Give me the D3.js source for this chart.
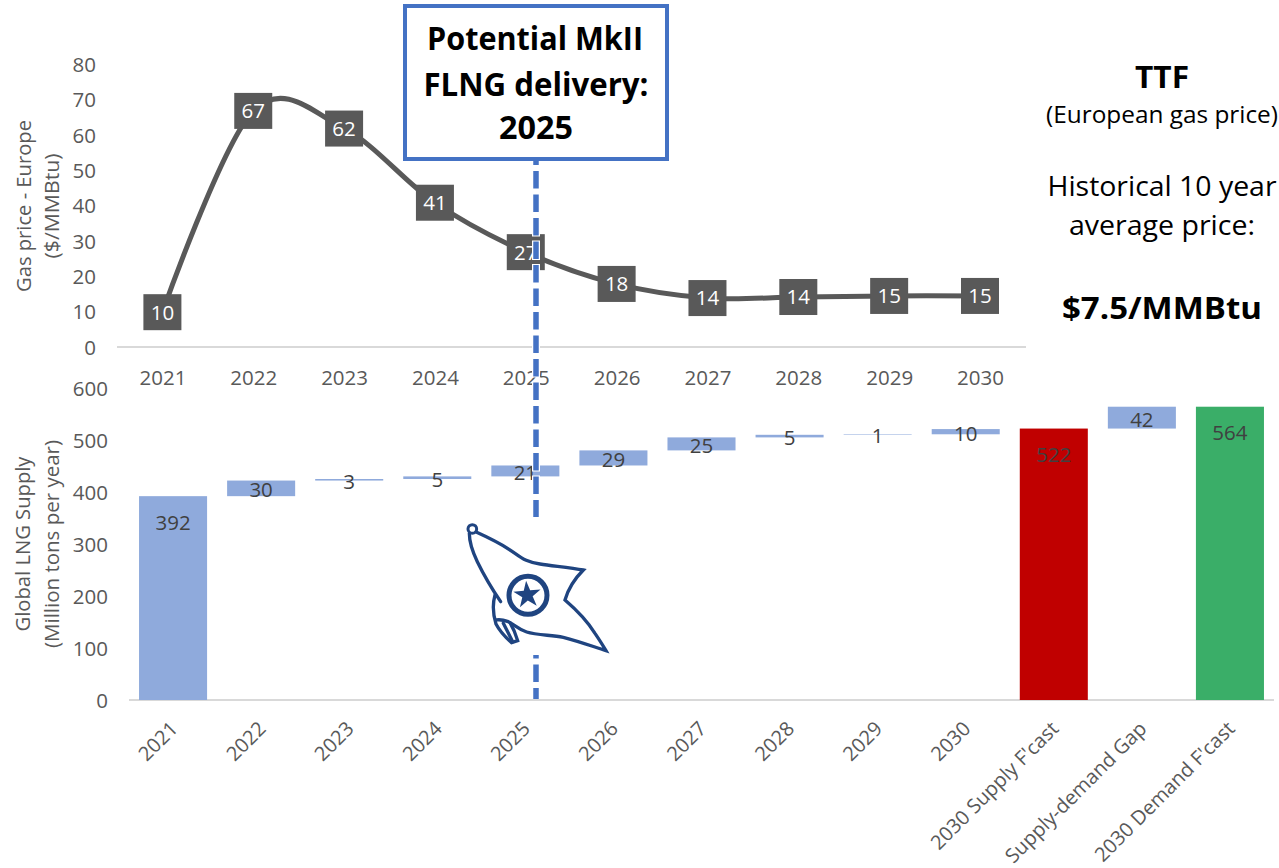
<!DOCTYPE html>
<html>
<head>
<meta charset="utf-8">
<script src="https://cdn.jsdelivr.net/npm/d3@7"></script>
<style>
  html, body { margin: 0; padding: 0; background: #fff; }
  svg { display: block; }
  text { font-family: "Open Sans", sans-serif; }
</style>
</head>
<body>
<svg id="chart" width="1279" height="868"></svg>
<script>
// Gas price series (TTF, $/MMBtu)
const priceYears = ["2021","2022","2023","2024","2025","2026","2027","2028","2029","2030"];
const priceValues = [10, 67, 62, 41, 27, 18, 14, 14.3, 14.6, 14.6];
const priceTicks = [0,10,20,30,40,50,60,70,80];

// LNG supply bridge (Mt per year)
const supplyCategories = ["2021","2022","2023","2024","2025","2026","2027","2028","2029","2030","2030 Supply F'cast","Supply-demand Gap","2030 Demand F'cast"];
const supplyValues = [392,30,3,5,21,29,25,5,1,10,522,42,564];
const supplyKinds = ["start","step","step","step","step","step","step","step","step","step","supply","gap","demand"];
const supplyTicks = [0,100,200,300,400,500,600];

const GREY = "#595959", LABEL = "#404040", BLUE = "#4472c4", BAR = "#8faadc";
const svg = d3.select("#chart");

// ---------- upper panel: smoothed price line ----------
const xTop = d3.scalePoint().domain(priceYears).range([162.4, 980]);
const yTop = d3.scaleLinear().domain([0, 80]).range([347.5, 65]);

svg.append("line").attr("x1", 117).attr("x2", 1026).attr("y1", 347).attr("y2", 347)
   .attr("stroke", "#d9d9d9").attr("stroke-width", 2);

const axisTopY = svg.append("g").attr("transform", "translate(96,0)")
   .call(d3.axisLeft(yTop).tickValues(priceTicks).tickSize(0).tickPadding(0));
const axisTopX = svg.append("g").attr("transform", "translate(0,347)")
   .call(d3.axisBottom(xTop).tickSize(0).tickPadding(23));
[axisTopY, axisTopX].forEach(a => {
  a.select(".domain").remove();
  a.selectAll("text").attr("fill", GREY).style("font-size", "20.5px");
});

const priceLine = d3.line()
  .x((d, i) => xTop(priceYears[i]))
  .y(d => yTop(d))
  .curve(d3.curveCardinal.tension(0));

svg.append("path").datum(priceValues).attr("d", priceLine)
   .attr("fill", "none").attr("stroke", GREY).attr("stroke-width", 5);

const markers = svg.append("g").selectAll("g").data(priceValues).join("g")
   .attr("transform", (d, i) => `translate(${xTop(priceYears[i])},${yTop(d)})`);
markers.append("rect").attr("x", -19).attr("y", -18).attr("width", 38).attr("height", 36).attr("fill", GREY);
markers.append("text").attr("text-anchor", "middle").attr("dy", "0.36em")
   .attr("fill", "#fff").style("font-size", "20.5px")
   .text(d => Math.round(d));

// ---------- lower panel: supply waterfall ----------
const xBot = d3.scaleBand().domain(supplyCategories).range([129, 1274]).paddingInner(0.2275).paddingOuter(0.114);
const yBot = d3.scaleLinear().domain([0, 600]).range([700, 388]);

// Each step sits on the running total; totals start from zero.
let running = 0;
const bars = supplyValues.map((v, i) => {
  const kind = supplyKinds[i];
  let base = 0;
  if (kind === "step") { base = running; running += v; }
  else if (kind === "start") { running = v; }
  else if (kind === "supply") { running = v; }
  else if (kind === "gap") { base = running; }
  return { cat: supplyCategories[i], v, kind, base };
});

svg.append("line").attr("x1", 129).attr("x2", 1274).attr("y1", yBot(0)).attr("y2", yBot(0))
   .attr("stroke", "#d9d9d9").attr("stroke-width", 2);

const axisBotY = svg.append("g").attr("transform", "translate(108,1)")
   .call(d3.axisLeft(yBot).tickValues(supplyTicks).tickSize(0).tickPadding(0));
axisBotY.select(".domain").remove();
axisBotY.selectAll("text").attr("fill", GREY).style("font-size", "20.5px");

const axisBotX = svg.append("g").attr("transform", "translate(0,700)")
   .call(d3.axisBottom(xBot).tickSize(0));
axisBotX.select(".domain").remove();
axisBotX.selectAll("text")
   .attr("fill", GREY).style("font-size", "20px")
   .attr("text-anchor", "end").attr("dy", 0).attr("y", 0)
   .attr("transform", "translate(6,30) rotate(-45)");

const barColor = { start: BAR, step: BAR, gap: BAR, supply: "#c00000", demand: "#3aae68" };
svg.append("g").selectAll("rect").data(bars).join("rect")
   .attr("x", d => xBot(d.cat))
   .attr("width", xBot.bandwidth())
   .attr("y", d => yBot(d.base + d.v))
   .attr("height", d => yBot(d.base) - yBot(d.base + d.v))
   .attr("fill", d => barColor[d.kind]);

svg.append("g").selectAll("text").data(bars).join("text")
   .attr("x", d => xBot(d.cat) + xBot.bandwidth() / 2)
   .attr("y", d => d.base === 0
        ? yBot(d.v) + 26
        : (yBot(d.base) + yBot(d.base + d.v)) / 2 + 1.5)
   .attr("dy", "0.36em").attr("text-anchor", "middle")
   .attr("fill", LABEL).style("font-size", "20.5px")
   .text(d => d.v);

// ---------- axis titles ----------
function rotatedTitle(x, y, str, len) {
  svg.append("text").attr("transform", `translate(${x},${y}) rotate(-90)`)
     .attr("text-anchor", "middle").attr("dy", "0.36em")
     .attr("fill", GREY).style("font-size", "20px")
     .attr("textLength", len).attr("lengthAdjust", "spacingAndGlyphs")
     .text(str);
}
rotatedTitle(24, 206, "Gas price - Europe", 172);
rotatedTitle(52, 206, "($/MMBtu)", 105);
rotatedTitle(23, 544, "Global LNG Supply", 175);
rotatedTitle(52, 544, "(Million tons per year)", 208);

// ---------- 2025 delivery marker ----------
const markerX = 536;
[["#ffffff", 8, 1], [BLUE, 5.5, 0]].forEach(([color, w, pad]) => {
  svg.append("line").attr("x1", markerX).attr("x2", markerX)
     .attr("y1", 160).attr("y2", 699)
     .attr("stroke", color).attr("stroke-width", w)
     .attr("stroke-dasharray", `${17.5 + 2 * pad} ${6 - 2 * pad}`)
     .attr("stroke-dashoffset", 12.5 + pad);
});

// Call-out box
svg.append("rect").attr("x", 405).attr("y", 6).attr("width", 262).attr("height", 153)
   .attr("fill", "#fff").attr("stroke", BLUE).attr("stroke-width", 4);

function note(x, y, str, size, weight, len) {
  svg.append("text").attr("x", x).attr("y", y).attr("text-anchor", "middle")
     .attr("fill", "#000").style("font-size", size + "px").style("font-weight", weight)
     .attr("textLength", len).attr("lengthAdjust", "spacingAndGlyphs")
     .text(str);
}
note(535, 50, "Potential MkII", 33, 700, 216);
note(536, 96, "FLNG delivery:", 33, 700, 225);
note(536, 139, "2025", 33, 700, 74);

// Side notes on the TTF benchmark
note(1162, 88, "TTF", 31, 700, 54);
note(1162, 123, "(European gas price)", 23, 400, 232);
note(1162, 196, "Historical 10 year", 28, 400, 229);
note(1162, 235, "average price:", 28, 400, 186);
note(1162, 319, "$7.5/MMBtu", 31, 700, 200);

// ---------- company flag on its white backing ----------
svg.append("rect").attr("x", 462).attr("y", 517).attr("width", 150).attr("height", 138).attr("fill", "#fff");
const flag = svg.append("g").attr("transform", "translate(440,500) scale(0.3333)");
const NAVY = "#1f4480";
const flagOutline = [
  "M110,97 C150,115 190,135 225,160 C250,178 265,187 300,192 C340,198 390,203 430,210 C405,235 385,265 375,300 C410,330 440,360 465,400 C480,422 490,438 498,452 C460,440 420,425 370,412 C330,405 290,405 260,396 C235,388 225,375 205,365 C190,360 180,358 170,360",
  "M88,100 C88,125 95,150 112,185 C130,222 155,265 182,305",
  "M165,285 C158,310 158,340 168,372 C180,395 200,415 215,428 L233,422 C228,405 220,385 210,368",
  "M190,370 L218,425"
];
flag.selectAll("path.outline").data(flagOutline).join("path").attr("class", "outline")
    .attr("d", d => d).attr("fill", "none").attr("stroke", NAVY).attr("stroke-width", 10)
    .attr("stroke-linecap", "round").attr("stroke-linejoin", "miter");
flag.append("circle").attr("cx", 97).attr("cy", 87).attr("r", 13)
    .attr("fill", "#fff").attr("stroke", NAVY).attr("stroke-width", 9);
flag.append("circle").attr("cx", 264).attr("cy", 286).attr("r", 57)
    .attr("fill", "none").attr("stroke", NAVY).attr("stroke-width", 15);
flag.append("path").attr("d", d3.symbol(d3.symbolStar, 2075)())
    .attr("transform", "translate(262,285) rotate(-5)").attr("fill", NAVY);
</script>
</body>
</html>
